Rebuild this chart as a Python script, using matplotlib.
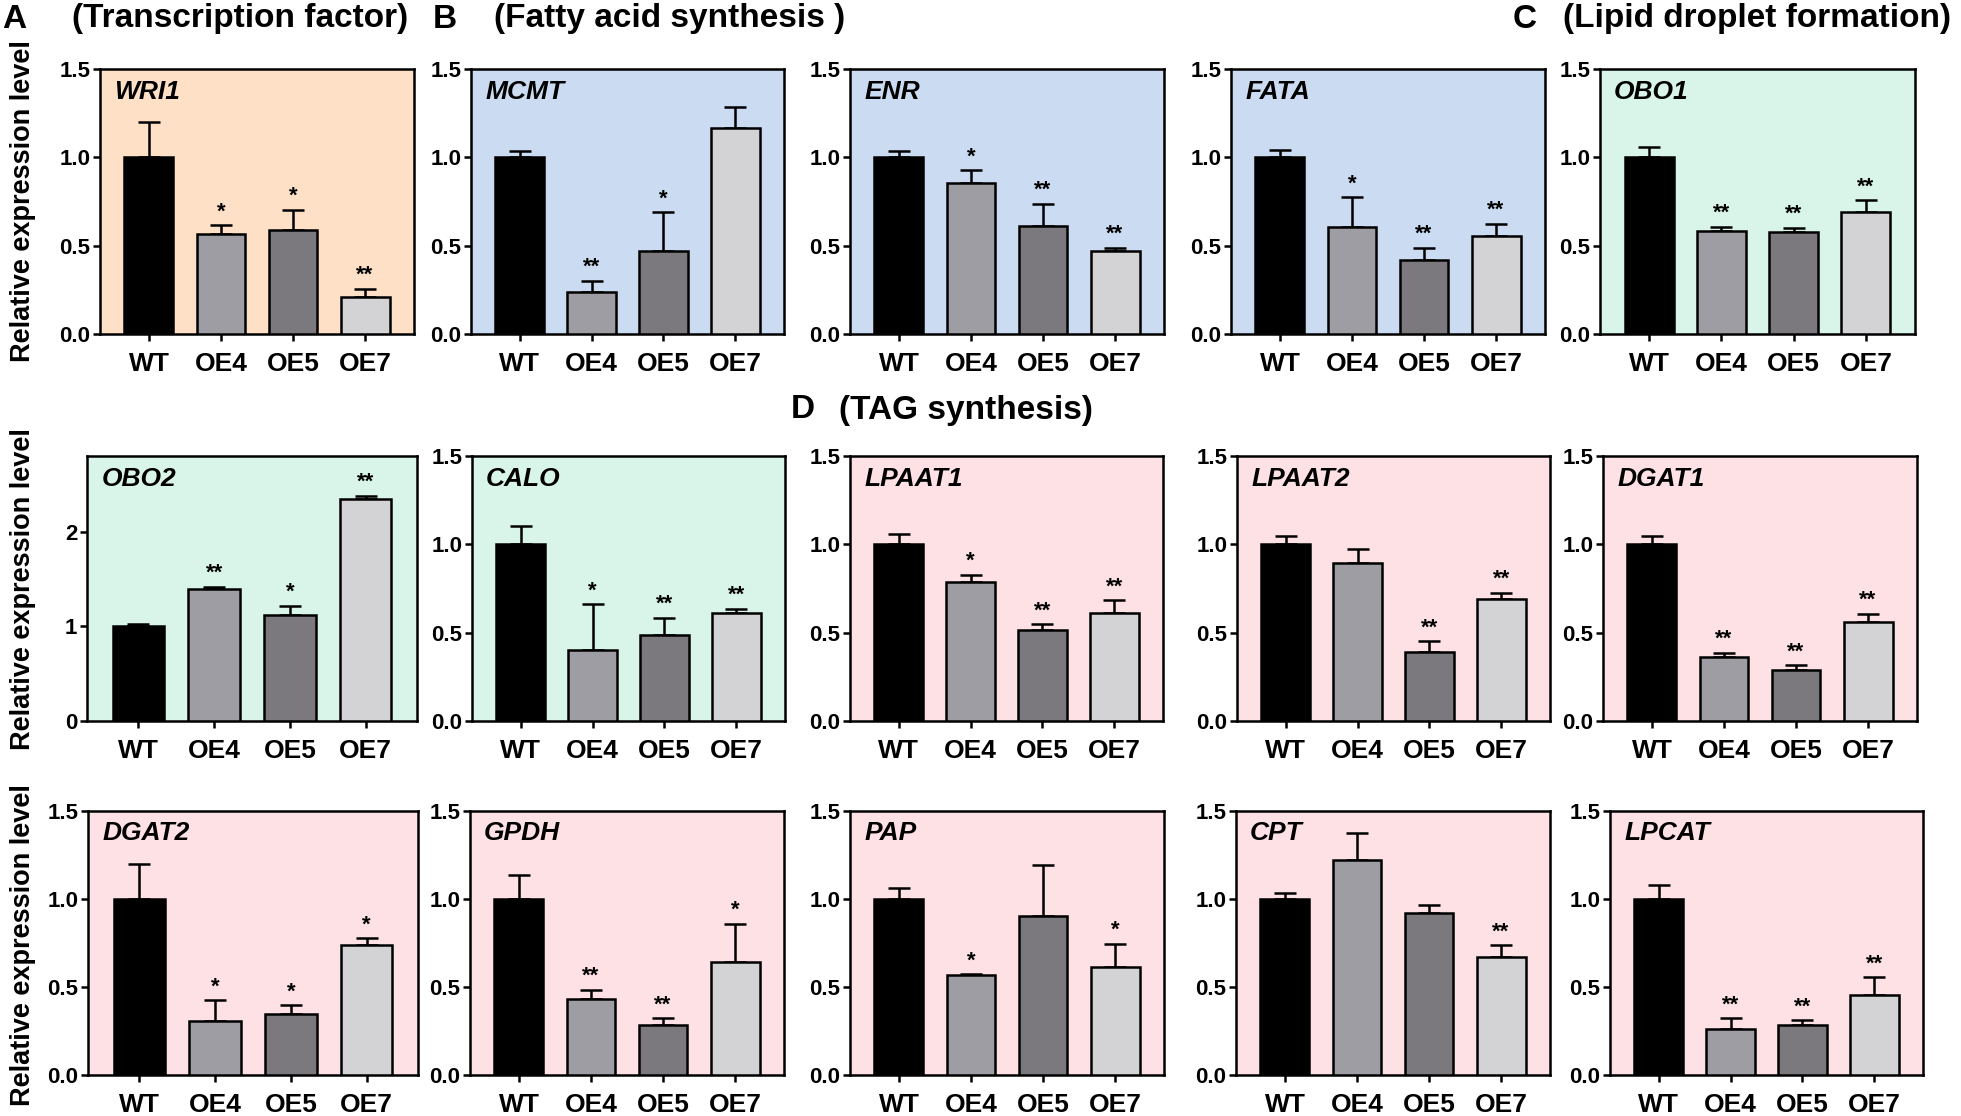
import matplotlib
matplotlib.use("Agg")
import matplotlib.pyplot as plt
import numpy as np

plt.rcParams['font.family'] = ['Liberation Sans', 'DejaVu Sans']

# ---------------- data ----------------
lines = ["WT", "OE4", "OE5", "OE7"]
genes = ["WRI1", "MCMT", "ENR", "FATA", "OBO1",
         "OBO2", "CALO", "LPAAT1", "LPAAT2", "DGAT1",
         "DGAT2", "GPDH", "PAP", "CPT", "LPCAT"]

WRI1 = [1.00, 0.565, 0.588, 0.212]
WRI1_err = [0.20, 0.05, 0.115, 0.045]
WRI1_sig = ["", "*", "*", "**"]

MCMT = [1.00, 0.236, 0.47, 1.164]
MCMT_err = [0.035, 0.065, 0.22, 0.12]
MCMT_sig = ["", "**", "*", ""]

ENR = [1.00, 0.853, 0.612, 0.467]
ENR_err = [0.035, 0.075, 0.125, 0.02]
ENR_sig = ["", "*", "**", "**"]

FATA = [1.00, 0.605, 0.421, 0.555]
FATA_err = [0.04, 0.17, 0.068, 0.07]
FATA_sig = ["", "*", "**", "**"]

OBO1 = [1.00, 0.583, 0.577, 0.693]
OBO1_err = [0.06, 0.025, 0.025, 0.065]
OBO1_sig = ["", "**", "**", "**"]

OBO2 = [1.00, 1.39, 1.124, 2.348]
OBO2_err = [0.025, 0.03, 0.095, 0.03]
OBO2_sig = ["", "**", "*", "**"]

CALO = [1.00, 0.40, 0.485, 0.611]
CALO_err = [0.105, 0.26, 0.10, 0.025]
CALO_sig = ["", "*", "**", "**"]

LPAAT1 = [1.00, 0.789, 0.515, 0.609]
LPAAT1_err = [0.06, 0.038, 0.032, 0.075]
LPAAT1_sig = ["", "*", "**", "**"]

LPAAT2 = [1.00, 0.892, 0.392, 0.689]
LPAAT2_err = [0.047, 0.08, 0.06, 0.038]
LPAAT2_sig = ["", "", "**", "**"]

DGAT1 = [1.00, 0.362, 0.289, 0.562]
DGAT1_err = [0.045, 0.023, 0.026, 0.044]
DGAT1_sig = ["", "**", "**", "**"]

DGAT2 = [1.00, 0.309, 0.349, 0.738]
DGAT2_err = [0.20, 0.115, 0.047, 0.038]
DGAT2_sig = ["", "*", "*", "*"]

GPDH = [1.00, 0.432, 0.284, 0.64]
GPDH_err = [0.136, 0.051, 0.038, 0.218]
GPDH_sig = ["", "**", "**", "*"]

PAP = [1.00, 0.568, 0.902, 0.615]
PAP_err = [0.06, 0.004, 0.29, 0.13]
PAP_sig = ["", "*", "", "*"]

CPT = [1.00, 1.223, 0.922, 0.672]
CPT_err = [0.034, 0.152, 0.044, 0.065]
CPT_sig = ["", "", "", "**"]

LPCAT = [1.00, 0.263, 0.285, 0.457]
LPCAT_err = [0.08, 0.06, 0.027, 0.097]
LPCAT_sig = ["", "**", "**", "**"]

values = [WRI1, MCMT, ENR, FATA, OBO1, OBO2, CALO, LPAAT1, LPAAT2, DGAT1,
          DGAT2, GPDH, PAP, CPT, LPCAT]
errors = [WRI1_err, MCMT_err, ENR_err, FATA_err, OBO1_err, OBO2_err, CALO_err,
          LPAAT1_err, LPAAT2_err, DGAT1_err, DGAT2_err, GPDH_err, PAP_err,
          CPT_err, LPCAT_err]
signif = [WRI1_sig, MCMT_sig, ENR_sig, FATA_sig, OBO1_sig, OBO2_sig, CALO_sig,
          LPAAT1_sig, LPAAT2_sig, DGAT1_sig, DGAT2_sig, GPDH_sig, PAP_sig,
          CPT_sig, LPCAT_sig]
groups = ["tf", "fa", "fa", "fa", "ld",
          "ld", "ld", "tag", "tag", "tag",
          "tag", "tag", "tag", "tag", "tag"]

# ---------------- style / layout ----------------
W, H = 1961, 1116
DPI = 100
bar_colors = ["#000000", "#9e9da3", "#7b797e", "#d3d3d5"]
bg_colors = {"tf": "#fde0c6", "fa": "#cbdcf2", "ld": "#d9f5ea", "tag": "#fde1e4"}

# pixel boxes (left, top, right, bottom)
boxes = [
    (100, 69, 414, 334), (471, 69, 784, 334), (850, 69, 1164, 334), (1231, 69, 1545, 334), (1600, 69, 1915, 334),
    (87, 456, 417, 721), (472, 456, 785, 721), (850, 456, 1163, 721), (1237, 456, 1550, 721), (1603, 456, 1917, 721),
    (88, 811, 418, 1075), (470, 811, 784, 1075), (850, 811, 1164, 1075), (1236, 811, 1550, 1075), (1610, 811, 1923, 1075),
]

fig = plt.figure(figsize=(W / DPI, H / DPI), dpi=DPI)
LW = 1.8

for i, g in enumerate(genes):
    l, t, r, b = boxes[i]
    ax = fig.add_axes([l / W, 1 - b / H, (r - l) / W, (b - t) / H])
    ax.set_facecolor(bg_colors[groups[i]])
    x = np.arange(len(lines))
    vals = np.array(values[i])
    errs = np.array(errors[i])
    ax.bar(x, vals, width=0.68, color=bar_colors, edgecolor="black",
           linewidth=LW, zorder=3)
    ax.errorbar(x, vals, yerr=[np.zeros_like(errs), errs], fmt="none",
                ecolor="black", elinewidth=LW, capsize=8, capthick=LW, zorder=2)
    if g == "OBO2":
        ymax = 2.8
        ax.set_yticks([0, 1, 2])
        ax.set_yticklabels(["0", "1", "2"])
    else:
        ymax = 1.5
        ax.set_yticks([0, 0.5, 1.0, 1.5])
        ax.set_yticklabels(["0.0", "0.5", "1.0", "1.5"])
    ax.set_ylim(0, ymax)
    ax.set_xlim(-0.68, 3.68)
    ax.set_xticks(x)
    ax.set_xticklabels(lines, fontsize=19, fontweight="bold")
    for lab in ax.get_yticklabels():
        lab.set_fontsize(16)
        lab.set_fontweight("bold")
    ax.tick_params(axis="x", direction="out", length=5, width=LW, pad=8)
    ax.tick_params(axis="y", direction="out", length=5, width=LW, pad=2)
    for sp in ax.spines.values():
        sp.set_linewidth(LW)
    for xi, v, e, s in zip(x, vals, errs, signif[i]):
        if s:
            ax.annotate(s, (xi, v + e), xytext=(0, 2), textcoords="offset points",
                        ha="center", va="bottom", fontsize=16, fontweight="bold",
                        zorder=5)
    ax.text(0.045, 0.915, g, transform=ax.transAxes, fontsize=19,
            fontweight="bold", fontstyle="italic", ha="left", va="center", zorder=6)

# y labels
for yc in [201, 589, 945]:
    fig.text(23 / W, 1 - yc / H, "Relative expression level", rotation=90,
             fontsize=19.5, fontweight="bold", ha="center", va="center")

# panel labels and titles
heads = [("A", 2, 19), ("B", 433, 19), ("C", 1513, 19), ("D", 791, 410)]
titles = [("(Transcription factor)", 72, 19), ("(Fatty acid synthesis )", 494, 19),
          ("(Lipid droplet formation)", 1563, 19), ("(TAG synthesis)", 839, 410)]
for txt, xp, yp in heads + titles:
    fig.text(xp / W, 1 - yp / H, txt, fontsize=24, fontweight="bold",
             ha="left", va="center")

fig.savefig("out.png", dpi=DPI)
